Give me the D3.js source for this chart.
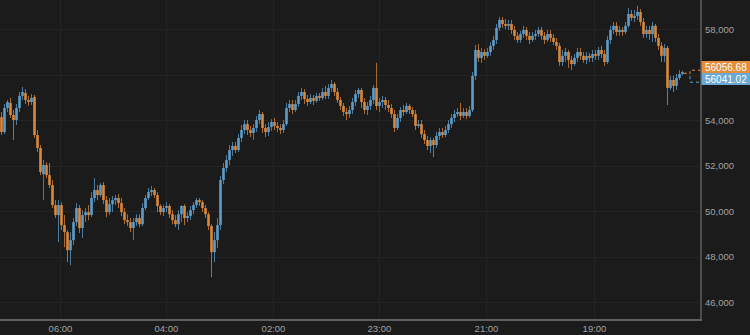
<!DOCTYPE html>
<html>
<head>
<meta charset="utf-8">
<script src="https://cdn.jsdelivr.net/npm/d3@7"></script>
<style>
html, body { margin: 0; padding: 0; background: #1b1b1b; }
svg { display: block; }
</style>
</head>
<body>
<div id="chart"></div>
<script>
//DATA
var opens = [
54130,53470,54530,54750,54220,54000,54530,55060,55190,54880,
54790,55010,53340,52770,51620,52020,51580,51140,50260,49820,
50260,49380,49070,48280,48720,49510,50130,49250,49820,49950,
49820,50570,50920,50700,51140,50480,49950,50300,50480,50570,
50350,49950,49600,49510,49250,49510,49690,49420,50130,50570,
50830,50920,50700,50220,49950,50130,50220,49860,49600,49420,
49860,50220,49690,49780,50040,50260,50480,50390,50130,49860,
49340,48190,48720,49380,51360,51890,52240,52680,52860,52680,
53210,53560,53820,53560,53430,53650,54000,54260,53650,53470,
53690,53910,53740,53650,53560,53820,54530,54700,54440,54700,
55060,55230,54920,54790,54970,54840,55060,54970,55230,55060,
55410,55580,55230,54880,54620,54350,54260,54440,54790,55140,
55320,54790,54440,54620,54880,55410,54620,54790,54880,54660,
54530,54260,53650,54090,54440,54350,54620,54440,54260,53740,
53820,53380,53120,52860,53120,52900,53300,53470,53340,53560,
53820,54090,54260,54350,54180,54350,54180,54440,55940,57080,
56730,56990,56820,56990,57260,57520,58050,58400,58220,58140,
58220,57960,57700,57520,57780,57960,57700,57520,57700,57780,
57960,57700,57520,57780,57610,57430,57260,56550,56820,56990,
56640,56460,56730,56990,56820,56640,56820,56730,56900,56820,
57080,56900,56550,57520,57960,58140,57870,57960,57870,58140,
58660,58490,58580,58750,58310,57780,57960,57780,58140,57610,
57260,56820,57170,55410,55760,55500,55850,56020,56070
];
var closes = [
53470,54530,54790,54220,54000,54530,55060,55230,54880,54790,
54970,53340,52770,51710,52020,51580,51140,50260,49820,50260,
49380,49070,48280,48720,49510,50130,49250,49820,49950,49820,
50570,50920,50700,51140,50480,49950,50300,50480,50570,50350,
49950,49600,49510,49250,49510,49690,49420,50130,50570,50830,
50920,50700,50220,49950,50130,50220,49860,49600,49420,49860,
50220,49690,49780,50040,50260,50480,50390,50130,49860,49340,
48190,48720,49380,51360,51890,52240,52680,52860,52680,53210,
53560,53820,53560,53430,53650,54000,54260,53650,53470,53690,
53910,53740,53650,53560,53820,54530,54700,54440,54700,55060,
55230,54920,54790,54970,54840,55060,54970,55230,55060,55410,
55580,55230,54880,54620,54350,54260,54440,54790,55140,55320,
54790,54440,54620,54880,55410,54620,54790,54880,54660,54530,
54260,53650,54090,54440,54350,54620,54440,54260,53740,53820,
53380,53120,52860,53120,52900,53300,53470,53340,53560,53820,
54090,54260,54350,54180,54350,54180,54440,55940,57080,56730,
56990,56820,56990,57260,57520,58050,58400,58220,58140,58220,
57960,57700,57520,57780,57960,57700,57520,57700,57780,57960,
57700,57520,57780,57610,57430,57260,56550,56820,56990,56640,
56460,56730,56990,56820,56640,56820,56730,56900,56820,57080,
56900,56550,57520,57960,58140,57870,57960,57870,58140,58660,
58490,58580,58750,58310,57780,57960,57780,58140,57610,57260,
56820,57170,55410,55760,55500,55850,56020,56110,56040
];
var highs = [
54350,54700,54880,54970,54440,54700,55230,55450,55360,55060,
55140,55100,53560,52900,52240,52150,52110,51360,50480,50480,
50390,49820,49160,49070,49690,50350,50260,50040,50130,50260,
50830,51450,51140,51230,51270,50660,50570,50660,50700,50740,
50570,50130,49860,49690,49690,49860,49860,50350,50700,51010,
51100,51010,50830,50300,50260,50390,50300,50040,49820,50040,
50260,50300,49950,50220,50390,50570,50570,50480,50260,49950,
49420,49070,49690,51540,52110,52460,52900,53030,53030,53380,
53780,54000,54000,53740,53820,54180,54440,54350,53820,53910,
54040,54090,53910,53820,54000,54750,54880,54880,54880,55230,
55410,55360,55100,55140,55100,55190,55190,55410,55500,55580,
55760,55670,55410,55010,54750,54530,54620,54970,55320,55410,
55410,54970,54790,55060,55540,56510,54970,55060,55010,54880,
54700,54440,54260,54570,54660,54750,54700,54570,54440,54000,
54000,53560,53300,53250,53210,53470,53650,53650,53740,54000,
54260,54440,54530,54750,54530,54530,54620,56110,57300,57340,
57170,57120,57170,57430,57700,58220,58530,58530,58440,58400,
58400,58140,57870,57920,58140,58090,57870,57870,57960,58090,
58090,57870,57960,57960,57780,57610,57390,57080,57170,57080,
56820,56900,57170,57170,56990,56990,56950,57080,57080,57210,
57260,57080,57700,58140,58310,58310,58140,58090,58310,58930,
58840,58840,59020,58880,58490,58140,58140,58310,58220,57780,
57430,57340,57260,55940,55940,56020,56200,56160,56090
];
var lows = [
53340,53380,54350,54090,53120,53780,54350,54880,54700,54620,
54660,53210,52590,51580,50480,51450,51010,50130,49690,48630,
49160,48410,47750,47620,48500,49340,49030,48810,49510,49600,
49730,50390,50480,50610,50300,49730,49820,49950,50260,50130,
49780,49420,49340,49070,48720,49340,49290,49340,50040,50480,
50660,50570,49950,49820,49780,49950,49690,49420,49290,49160,
49510,49380,49510,49600,49860,50130,50220,49950,49690,49160,
47090,47750,48370,49160,51180,51710,52020,52420,52550,52590,
53030,53380,53340,53250,53120,53470,53820,53430,53250,53300,
53520,53560,53470,53380,53430,53740,54350,54260,54350,54570,
54880,54700,54620,54700,54660,54750,54840,54880,54920,54920,
55230,55060,54750,54440,54180,54000,54090,54260,54620,54970,
54530,54260,54220,54440,54700,54440,54350,54530,54440,54350,
54090,53470,53560,53910,54180,54260,54260,54130,53560,53650,
53210,52940,52680,52550,52370,52770,53120,53210,53250,53430,
53650,53910,54130,54000,54090,54040,54090,54350,55760,56550,
56510,56640,56730,56820,57080,57340,57920,58050,58000,57960,
57780,57520,57390,57390,57610,57520,57340,57430,57520,57650,
57520,57340,57430,57430,57300,57080,56380,56380,56550,56290,
56200,56380,56550,56640,56510,56460,56550,56550,56640,56640,
56730,56380,56460,57340,57780,57700,57700,57700,57780,58050,
58360,58310,58400,58140,57610,57610,57520,57430,57430,57080,
56550,56550,54660,55320,55230,55320,55760,55980,56030
];

var tickLabels = ["06:00", "04:00", "02:00", "23:00", "21:00", "19:00"];
var tickIndex = [19.5, 54.8, 90.5, 125.8, 161.5, 197.5];   // candle slot under each label
var yTicks = [46000, 48000, 50000, 52000, 54000, 56000, 58000];
var lastPrices = [56056.68, 56041.02];

var upColor = "#62a3d3";
var downColor = "#e58d3b";

//SIZING
var fullW = 750, fullH = 335;
var plotW = 701, plotH = 319;

var candles = opens.map(function (o, i) {
    return { i: i, o: o, h: highs[i], l: lows[i], c: closes[i] };
});

var svg = d3.select("#chart").append("svg")
    .attr("width", fullW)
    .attr("height", fullH)
    .style("font-family", "'Liberation Sans', Arial, sans-serif");

svg.append("rect").attr("width", fullW).attr("height", fullH).attr("fill", "#1b1b1b");

var x = d3.scaleLinear().domain([-0.5, 233.5]).range([0, 702]);
var y = d3.scaleLinear().domain([45253, 59275]).range([plotH, 0]);

// GRID
var grid = svg.append("g");
grid.selectAll(".hg").data(yTicks).enter().append("line")
    .attr("x1", 0).attr("x2", plotW)
    .attr("y1", function (d) { return Math.round(y(d)) + 0.5; })
    .attr("y2", function (d) { return Math.round(y(d)) + 0.5; })
    .attr("stroke", "#242424");
grid.selectAll(".vg").data(tickIndex).enter().append("line")
    .attr("y1", 0).attr("y2", plotH)
    .attr("x1", function (d) { return Math.round(x(d)) + 0.5; })
    .attr("x2", function (d) { return Math.round(x(d)) + 0.5; })
    .attr("stroke", "#242424");

// CANDLES
var cg = svg.append("g");
function col(d) { return d.c > d.o ? upColor : downColor; }

cg.selectAll(".wick").data(candles).enter().append("line")
    .attr("x1", function (d) { return x(d.i); })
    .attr("x2", function (d) { return x(d.i); })
    .attr("y1", function (d) { return y(d.h); })
    .attr("y2", function (d) { return y(d.l); })
    .attr("stroke", col)
    .attr("stroke-width", 1)
    .attr("opacity", 0.7);

cg.selectAll(".body").data(candles).enter().append("rect")
    .attr("x", function (d) { return x(d.i) - 1.4; })
    .attr("width", 2.8)
    .attr("y", function (d) { return Math.min(y(d.o), y(d.c)); })
    .attr("height", function (d) { return Math.max(1, Math.abs(y(d.o) - y(d.c))); })
    .attr("fill", col)
    .attr("opacity", 0.85);

// LAST PRICE CONNECTOR (dashed)
var yO = y(lastPrices[0]);
var boxL = x(candles.length + 0.5);
svg.append("path")
    .attr("d", "M" + plotW + "," + (yO - 3) + "H" + boxL + "V" + (yO + 3))
    .attr("fill", "none").attr("stroke", downColor).attr("stroke-dasharray", "3,3");
svg.append("path")
    .attr("d", "M" + boxL + "," + (yO + 3) + "V" + (yO + 9) + "H" + plotW)
    .attr("fill", "none").attr("stroke", upColor).attr("stroke-dasharray", "3,3");

// AXES
svg.append("line")
    .attr("x1", 0).attr("x2", plotW + 1)
    .attr("y1", plotH + 1).attr("y2", plotH + 1)
    .attr("stroke", "#5f5f5f").attr("stroke-width", 2);
svg.append("line")
    .attr("x1", plotW).attr("x2", plotW)
    .attr("y1", 0).attr("y2", plotH + 1)
    .attr("stroke", "#5f5f5f").attr("stroke-width", 1.5);

var xAxis = d3.axisBottom(x)
    .tickValues(tickIndex)
    .tickSize(0)
    .tickPadding(4)
    .tickFormat(function (d, i) { return tickLabels[i]; });
svg.append("g")
    .attr("transform", "translate(0," + (plotH + 2) + ")")
    .call(xAxis)
    .call(function (g) { g.select(".domain").remove(); })
    .selectAll("text")
    .attr("fill", "#a2a2a2")
    .style("font-size", "9.5px")
    .style("font-family", "'Liberation Sans', Arial, sans-serif");

// 56,000 sits under the price labels, so only its grid line shows
var yAxis = d3.axisRight(y)
    .tickValues(yTicks.filter(function (d) { return Math.abs(y(d) - yO) > 14; }))
    .tickSize(0)
    .tickPadding(4)
    .tickFormat(d3.format(","));
svg.append("g")
    .attr("transform", "translate(" + plotW + ",0)")
    .call(yAxis)
    .call(function (g) { g.select(".domain").remove(); })
    .selectAll("text")
    .attr("fill", "#a2a2a2")
    .style("font-size", "9.5px")
    .style("font-family", "'Liberation Sans', Arial, sans-serif");

// PRICE LABELS
var labelColors = [downColor, "#6aa9d4"];
var lbl = svg.append("g").selectAll("g").data(lastPrices).enter().append("g")
    .attr("transform", function (d, i) {
        return "translate(" + (plotW + 0.5) + "," + (Math.round(yO) - 12 + i * 12) + ")";
    });
lbl.append("rect")
    .attr("width", fullW - plotW)
    .attr("height", 12)
    .attr("fill", function (d, i) { return labelColors[i]; });
lbl.append("text")
    .attr("x", 3.5)
    .attr("y", 9.5)
    .attr("fill", "#ffffff")
    .style("font-size", "10px")
    .text(function (d) { return d.toFixed(2); });
</script>
</body>
</html>
